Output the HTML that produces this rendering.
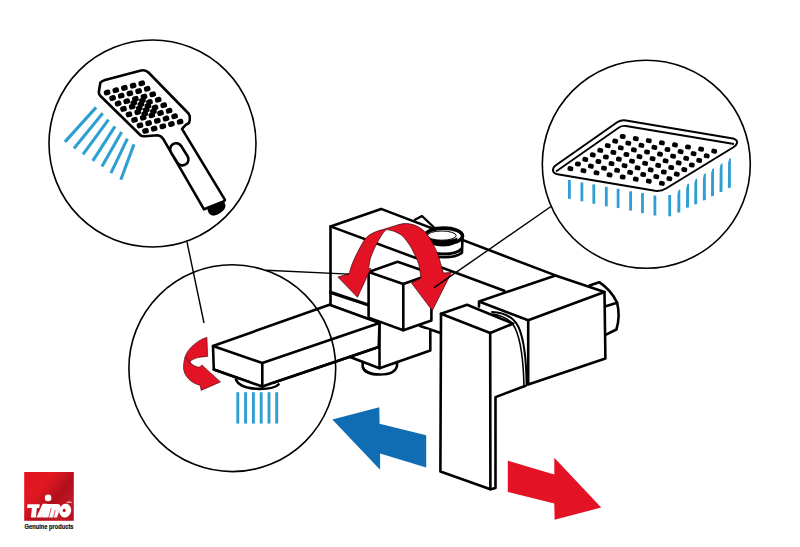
<!DOCTYPE html>
<html><head><meta charset="utf-8"><style>
html,body{margin:0;padding:0;background:#fff;}
body{width:800px;height:547px;overflow:hidden;font-family:"Liberation Sans",sans-serif;}
svg{display:block;}
</style></head><body>
<svg width="800" height="547" viewBox="0 0 800 547">
<g stroke="#2f9fd3" stroke-width="3.1" fill="none">
<line x1="96.1" y1="107.4" x2="64.9" y2="141.9"/>
<line x1="102.7" y1="113.2" x2="73.9" y2="148.5"/>
<line x1="108.5" y1="119.7" x2="83" y2="154.3"/>
<line x1="115" y1="126.3" x2="92.8" y2="160.9"/>
<line x1="121.6" y1="132.1" x2="101.9" y2="166.6"/>
<line x1="127.4" y1="138.7" x2="110.9" y2="173.2"/>
<line x1="134" y1="144.4" x2="120.8" y2="179.8"/>
</g>
<path d="M100.3,82.8 L98.8,92.3 Q98.9,94.3 100.5,96 L140.5,135.3 Q142,136.6 145,136.2 L157.5,135.2 Q161,135.4 163.5,139.3 L204,209.3 L223.5,201.5 Q225.5,200.5 224.7,199.4 L182,128.8 Q184.3,125 189,123 Q191,117 188.5,113.5 L148.5,72.5 Q145.5,69.5 141,70.5 L105,80 Q101.5,81 100.3,82.8 Z" fill="#fff" stroke="#000" stroke-width="2.6" stroke-linejoin="round"/>
<path d="M207.5,209 L223.5,201.5 Q226.8,205 224.5,209 Q221,213.8 214.5,215.6 Q209.5,216 207.8,211 Z" fill="#000"/>
<g transform="translate(179.3,154.3) rotate(-32)"><rect x="-6" y="-12" width="12" height="24" rx="6" fill="#fff" stroke="#000" stroke-width="2.6"/></g>
<g fill="#000">
<rect x="103.8" y="89.8" width="6.6" height="5.4" rx="2.1" transform="rotate(-15 107.1 92.5)"/>
<rect x="109.3" y="95.3" width="6.6" height="5.4" rx="2.1" transform="rotate(-15 112.6 98.0)"/>
<rect x="114.8" y="100.8" width="6.6" height="5.4" rx="2.1" transform="rotate(-15 118.1 103.5)"/>
<rect x="120.2" y="106.2" width="6.6" height="5.4" rx="2.1" transform="rotate(-15 123.5 108.9)"/>
<rect x="125.7" y="111.7" width="6.6" height="5.4" rx="2.1" transform="rotate(-15 129.0 114.4)"/>
<rect x="131.2" y="117.2" width="6.6" height="5.4" rx="2.1" transform="rotate(-15 134.5 119.9)"/>
<rect x="136.7" y="122.7" width="6.6" height="5.4" rx="2.1" transform="rotate(-15 140.0 125.4)"/>
<rect x="142.2" y="128.2" width="6.6" height="5.4" rx="2.1" transform="rotate(-15 145.5 130.9)"/>
<rect x="112.5" y="87.5" width="6.6" height="5.4" rx="2.1" transform="rotate(-15 115.8 90.2)"/>
<rect x="117.9" y="93.0" width="6.6" height="5.4" rx="2.1" transform="rotate(-15 121.2 95.7)"/>
<rect x="123.4" y="98.5" width="6.6" height="5.4" rx="2.1" transform="rotate(-15 126.7 101.2)"/>
<rect x="128.9" y="103.9" width="6.6" height="5.4" rx="2.1" transform="rotate(-15 132.2 106.6)"/>
<rect x="134.4" y="109.4" width="6.6" height="5.4" rx="2.1" transform="rotate(-15 137.7 112.1)"/>
<rect x="139.9" y="114.9" width="6.6" height="5.4" rx="2.1" transform="rotate(-15 143.2 117.6)"/>
<rect x="145.3" y="120.4" width="6.6" height="5.4" rx="2.1" transform="rotate(-15 148.6 123.1)"/>
<rect x="150.8" y="125.9" width="6.6" height="5.4" rx="2.1" transform="rotate(-15 154.1 128.6)"/>
<rect x="121.1" y="85.2" width="6.6" height="5.4" rx="2.1" transform="rotate(-15 124.4 87.9)"/>
<rect x="126.6" y="90.7" width="6.6" height="5.4" rx="2.1" transform="rotate(-15 129.9 93.4)"/>
<rect x="132.1" y="96.2" width="6.6" height="5.4" rx="2.1" transform="rotate(-15 135.4 98.9)"/>
<rect x="137.6" y="101.6" width="6.6" height="5.4" rx="2.1" transform="rotate(-15 140.9 104.3)"/>
<rect x="143.0" y="107.1" width="6.6" height="5.4" rx="2.1" transform="rotate(-15 146.3 109.8)"/>
<rect x="148.5" y="112.6" width="6.6" height="5.4" rx="2.1" transform="rotate(-15 151.8 115.3)"/>
<rect x="154.0" y="118.1" width="6.6" height="5.4" rx="2.1" transform="rotate(-15 157.3 120.8)"/>
<rect x="159.5" y="123.6" width="6.6" height="5.4" rx="2.1" transform="rotate(-15 162.8 126.3)"/>
<rect x="129.8" y="82.9" width="6.6" height="5.4" rx="2.1" transform="rotate(-15 133.1 85.6)"/>
<rect x="135.3" y="88.4" width="6.6" height="5.4" rx="2.1" transform="rotate(-15 138.6 91.1)"/>
<rect x="140.7" y="93.9" width="6.6" height="5.4" rx="2.1" transform="rotate(-15 144.0 96.6)"/>
<rect x="146.2" y="99.3" width="6.6" height="5.4" rx="2.1" transform="rotate(-15 149.5 102.0)"/>
<rect x="151.7" y="104.8" width="6.6" height="5.4" rx="2.1" transform="rotate(-15 155.0 107.5)"/>
<rect x="157.2" y="110.3" width="6.6" height="5.4" rx="2.1" transform="rotate(-15 160.5 113.0)"/>
<rect x="162.7" y="115.8" width="6.6" height="5.4" rx="2.1" transform="rotate(-15 166.0 118.5)"/>
<rect x="168.1" y="121.3" width="6.6" height="5.4" rx="2.1" transform="rotate(-15 171.4 124.0)"/>
<rect x="138.4" y="80.6" width="6.6" height="5.4" rx="2.1" transform="rotate(-15 141.7 83.3)"/>
<rect x="143.9" y="86.1" width="6.6" height="5.4" rx="2.1" transform="rotate(-15 147.2 88.8)"/>
<rect x="149.4" y="91.6" width="6.6" height="5.4" rx="2.1" transform="rotate(-15 152.7 94.3)"/>
<rect x="154.9" y="97.0" width="6.6" height="5.4" rx="2.1" transform="rotate(-15 158.2 99.7)"/>
<rect x="160.4" y="102.5" width="6.6" height="5.4" rx="2.1" transform="rotate(-15 163.7 105.2)"/>
<rect x="165.8" y="108.0" width="6.6" height="5.4" rx="2.1" transform="rotate(-15 169.1 110.7)"/>
<rect x="171.3" y="113.5" width="6.6" height="5.4" rx="2.1" transform="rotate(-15 174.6 116.2)"/>
<rect x="176.8" y="119.0" width="6.6" height="5.4" rx="2.1" transform="rotate(-15 180.1 121.7)"/>
<rect x="130.5" y="100.0" width="6.6" height="5.4" rx="2.1" transform="rotate(-15 133.8 102.8)"/>
<rect x="136.0" y="105.5" width="6.6" height="5.4" rx="2.1" transform="rotate(-15 139.3 108.2)"/>
<rect x="141.4" y="111.0" width="6.6" height="5.4" rx="2.1" transform="rotate(-15 144.8 113.7)"/>
<rect x="139.1" y="97.8" width="6.6" height="5.4" rx="2.1" transform="rotate(-15 142.4 100.5)"/>
<rect x="144.6" y="103.2" width="6.6" height="5.4" rx="2.1" transform="rotate(-15 147.9 105.9)"/>
<rect x="150.1" y="108.7" width="6.6" height="5.4" rx="2.1" transform="rotate(-15 153.4 111.4)"/>
</g>
<path d="M555.5,165.5 L617.5,122 Q621,119.8 626,120.5 L733,138.5 Q738,140 737,143 Q736.5,145.5 733,147.5 L666,188.5 Q661,191.5 655,190.8 L557.5,174.3 Q553.3,173.5 553,170.5 Q552.8,167.5 555.5,165.5 Z" fill="#fff" stroke="#000" stroke-width="2" stroke-linejoin="round"/>
<path d="M556,171.5 L619,127.5 Q622,125.5 626,126 L734,144" fill="none" stroke="#000" stroke-width="1.8"/>
<g fill="#000">
<rect x="567.5" y="166.2" width="5.8" height="4.8" rx="1.8" transform="rotate(10 570.4 168.6)"/>
<rect x="580.6" y="168.3" width="5.8" height="4.8" rx="1.8" transform="rotate(10 583.5 170.7)"/>
<rect x="593.6" y="170.4" width="5.8" height="4.8" rx="1.8" transform="rotate(10 596.5 172.8)"/>
<rect x="606.7" y="172.5" width="5.8" height="4.8" rx="1.8" transform="rotate(10 609.6 174.9)"/>
<rect x="619.8" y="174.6" width="5.8" height="4.8" rx="1.8" transform="rotate(10 622.7 177.0)"/>
<rect x="632.9" y="176.7" width="5.8" height="4.8" rx="1.8" transform="rotate(10 635.8 179.1)"/>
<rect x="645.9" y="178.8" width="5.8" height="4.8" rx="1.8" transform="rotate(10 648.8 181.2)"/>
<rect x="659.0" y="180.9" width="5.8" height="4.8" rx="1.8" transform="rotate(10 661.9 183.3)"/>
<rect x="575.0" y="161.6" width="5.8" height="4.8" rx="1.8" transform="rotate(10 577.9 164.0)"/>
<rect x="588.0" y="163.7" width="5.8" height="4.8" rx="1.8" transform="rotate(10 590.9 166.1)"/>
<rect x="601.1" y="165.8" width="5.8" height="4.8" rx="1.8" transform="rotate(10 604.0 168.2)"/>
<rect x="614.2" y="167.9" width="5.8" height="4.8" rx="1.8" transform="rotate(10 617.1 170.3)"/>
<rect x="627.2" y="170.0" width="5.8" height="4.8" rx="1.8" transform="rotate(10 630.1 172.4)"/>
<rect x="640.3" y="172.1" width="5.8" height="4.8" rx="1.8" transform="rotate(10 643.2 174.5)"/>
<rect x="653.4" y="174.2" width="5.8" height="4.8" rx="1.8" transform="rotate(10 656.3 176.6)"/>
<rect x="666.5" y="176.3" width="5.8" height="4.8" rx="1.8" transform="rotate(10 669.4 178.7)"/>
<rect x="582.4" y="157.0" width="5.8" height="4.8" rx="1.8" transform="rotate(10 585.3 159.4)"/>
<rect x="595.5" y="159.1" width="5.8" height="4.8" rx="1.8" transform="rotate(10 598.4 161.5)"/>
<rect x="608.6" y="161.2" width="5.8" height="4.8" rx="1.8" transform="rotate(10 611.5 163.6)"/>
<rect x="621.7" y="163.3" width="5.8" height="4.8" rx="1.8" transform="rotate(10 624.6 165.7)"/>
<rect x="634.7" y="165.4" width="5.8" height="4.8" rx="1.8" transform="rotate(10 637.6 167.8)"/>
<rect x="647.8" y="167.5" width="5.8" height="4.8" rx="1.8" transform="rotate(10 650.7 169.9)"/>
<rect x="660.9" y="169.6" width="5.8" height="4.8" rx="1.8" transform="rotate(10 663.8 172.0)"/>
<rect x="673.9" y="171.7" width="5.8" height="4.8" rx="1.8" transform="rotate(10 676.8 174.1)"/>
<rect x="589.9" y="152.5" width="5.8" height="4.8" rx="1.8" transform="rotate(10 592.8 154.9)"/>
<rect x="603.0" y="154.6" width="5.8" height="4.8" rx="1.8" transform="rotate(10 605.9 157.0)"/>
<rect x="616.0" y="156.7" width="5.8" height="4.8" rx="1.8" transform="rotate(10 618.9 159.1)"/>
<rect x="629.1" y="158.8" width="5.8" height="4.8" rx="1.8" transform="rotate(10 632.0 161.2)"/>
<rect x="642.2" y="160.9" width="5.8" height="4.8" rx="1.8" transform="rotate(10 645.1 163.3)"/>
<rect x="655.3" y="163.0" width="5.8" height="4.8" rx="1.8" transform="rotate(10 658.2 165.4)"/>
<rect x="668.3" y="165.1" width="5.8" height="4.8" rx="1.8" transform="rotate(10 671.2 167.5)"/>
<rect x="681.4" y="167.2" width="5.8" height="4.8" rx="1.8" transform="rotate(10 684.3 169.6)"/>
<rect x="597.4" y="147.9" width="5.8" height="4.8" rx="1.8" transform="rotate(10 600.3 150.3)"/>
<rect x="610.5" y="150.0" width="5.8" height="4.8" rx="1.8" transform="rotate(10 613.4 152.4)"/>
<rect x="623.5" y="152.1" width="5.8" height="4.8" rx="1.8" transform="rotate(10 626.4 154.5)"/>
<rect x="636.6" y="154.2" width="5.8" height="4.8" rx="1.8" transform="rotate(10 639.5 156.6)"/>
<rect x="649.7" y="156.3" width="5.8" height="4.8" rx="1.8" transform="rotate(10 652.6 158.7)"/>
<rect x="662.7" y="158.4" width="5.8" height="4.8" rx="1.8" transform="rotate(10 665.6 160.8)"/>
<rect x="675.8" y="160.5" width="5.8" height="4.8" rx="1.8" transform="rotate(10 678.7 162.9)"/>
<rect x="688.9" y="162.6" width="5.8" height="4.8" rx="1.8" transform="rotate(10 691.8 165.0)"/>
<rect x="604.9" y="143.3" width="5.8" height="4.8" rx="1.8" transform="rotate(10 607.8 145.7)"/>
<rect x="617.9" y="145.4" width="5.8" height="4.8" rx="1.8" transform="rotate(10 620.8 147.8)"/>
<rect x="631.0" y="147.5" width="5.8" height="4.8" rx="1.8" transform="rotate(10 633.9 149.9)"/>
<rect x="644.1" y="149.6" width="5.8" height="4.8" rx="1.8" transform="rotate(10 647.0 152.0)"/>
<rect x="657.1" y="151.7" width="5.8" height="4.8" rx="1.8" transform="rotate(10 660.0 154.1)"/>
<rect x="670.2" y="153.8" width="5.8" height="4.8" rx="1.8" transform="rotate(10 673.1 156.2)"/>
<rect x="683.3" y="155.9" width="5.8" height="4.8" rx="1.8" transform="rotate(10 686.2 158.3)"/>
<rect x="696.3" y="158.0" width="5.8" height="4.8" rx="1.8" transform="rotate(10 699.2 160.4)"/>
<rect x="612.3" y="138.7" width="5.8" height="4.8" rx="1.8" transform="rotate(10 615.2 141.1)"/>
<rect x="625.4" y="140.8" width="5.8" height="4.8" rx="1.8" transform="rotate(10 628.3 143.2)"/>
<rect x="638.5" y="142.9" width="5.8" height="4.8" rx="1.8" transform="rotate(10 641.4 145.3)"/>
<rect x="651.5" y="145.0" width="5.8" height="4.8" rx="1.8" transform="rotate(10 654.4 147.4)"/>
<rect x="664.6" y="147.1" width="5.8" height="4.8" rx="1.8" transform="rotate(10 667.5 149.5)"/>
<rect x="677.7" y="149.2" width="5.8" height="4.8" rx="1.8" transform="rotate(10 680.6 151.6)"/>
<rect x="690.7" y="151.3" width="5.8" height="4.8" rx="1.8" transform="rotate(10 693.6 153.7)"/>
<rect x="703.8" y="153.4" width="5.8" height="4.8" rx="1.8" transform="rotate(10 706.7 155.8)"/>
<rect x="619.8" y="134.1" width="5.8" height="4.8" rx="1.8" transform="rotate(10 622.7 136.5)"/>
<rect x="632.9" y="136.2" width="5.8" height="4.8" rx="1.8" transform="rotate(10 635.8 138.6)"/>
<rect x="645.9" y="138.3" width="5.8" height="4.8" rx="1.8" transform="rotate(10 648.8 140.7)"/>
<rect x="659.0" y="140.4" width="5.8" height="4.8" rx="1.8" transform="rotate(10 661.9 142.8)"/>
<rect x="672.1" y="142.5" width="5.8" height="4.8" rx="1.8" transform="rotate(10 675.0 144.9)"/>
<rect x="685.1" y="144.6" width="5.8" height="4.8" rx="1.8" transform="rotate(10 688.0 147.0)"/>
<rect x="698.2" y="146.7" width="5.8" height="4.8" rx="1.8" transform="rotate(10 701.1 149.1)"/>
<rect x="711.3" y="148.8" width="5.8" height="4.8" rx="1.8" transform="rotate(10 714.2 151.2)"/>
</g>
<g stroke="#2f9fd3" stroke-width="2.8" fill="none">
<line x1="569.4" y1="180" x2="569.4" y2="198.8"/>
<line x1="581.9" y1="182.5" x2="581.9" y2="201.3"/>
<line x1="593.8" y1="184.4" x2="593.8" y2="203.8"/>
<line x1="606.3" y1="186.9" x2="606.3" y2="206.3"/>
<line x1="618.1" y1="188.8" x2="618.1" y2="208.1"/>
<line x1="630.6" y1="191.3" x2="630.6" y2="210.6"/>
<line x1="642.5" y1="193.1" x2="642.5" y2="213.1"/>
<line x1="654.9" y1="195.5" x2="654.9" y2="215.5"/>
<line x1="669.7" y1="195" x2="669.7" y2="216.3"/>
</g>
<g fill="#2f9fd3">
<polygon points="678.6,190.0 680.3,189.2 680.3,212.2 677.3,212.8 677.5,194.0"/>
<polygon points="687.3,184.3 689.0,183.5 689.0,207.3 686.0,207.9 686.2,188.3"/>
<polygon points="695.5,179.3 697.2,178.5 697.2,204.0 694.2,204.6 694.4,183.3"/>
<polygon points="704.1,174.0 705.8,173.2 705.8,199.9 702.8,200.5 703.0,178.0"/>
<polygon points="712.3,169.0 714.0,168.2 714.0,195.8 711.0,196.4 711.2,173.0"/>
<polygon points="720.8,164.0 722.5,163.2 722.5,191.7 719.5,192.3 719.7,168.0"/>
<polygon points="729.2,158.8 730.9,158.0 730.9,187.6 727.9,188.2 728.1,162.8"/>
</g>
<g fill="none" stroke="#000" stroke-width="2.6" stroke-linejoin="round" stroke-linecap="round">
<path d="M589.6,285.4 L599.2,282.2 Q611,290 617.1,302.7 Q620.5,316 616.4,329.5 L605.5,334.9 L600,320 Z" fill="#fff"/>
<polyline points="604.0,306.8 617.1,302.7"/>
</g>
<g fill="none" stroke="#000" stroke-width="2.6" stroke-linejoin="round" stroke-linecap="round">
<polygon fill="#fff" points="330.5,226.4 381.1,208.9 555.5,275.4 504.3,290.7 440.0,333.0 330.5,305.6" stroke="none"/>
<polyline points="330.5,305.6 330.5,226.4 381.1,208.9 555.5,275.4"/>
<polyline points="330.5,226.4 504.3,290.7"/>
<polyline points="330.5,292.4 370.0,305.5" stroke-width="3.3"/>
<polyline points="330.5,305.6 379.5,323.0"/>
<polyline points="420.1,326.1 440.6,333.1"/>
<polyline points="414.9,219.8 422.0,216.0 434.1,227.5" stroke-width="2.4"/>
</g>
<g stroke="#000" fill="#fff">
<path d="M425,237 L425.5,252.5 Q431,257.3 444,257.3 Q457,257.3 462,252.5 L462.5,237 Z" stroke-width="2.6"/>
<path d="M425.5,248.5 Q431,254 444,254 Q457,254 462,248.5" fill="none" stroke-width="3"/>
<ellipse cx="443.8" cy="236" rx="18.7" ry="7.9" stroke-width="3.6"/>
<ellipse cx="441.8" cy="235.6" rx="14.4" ry="4.6" stroke-width="1"/>
<path d="M427.5,237 Q429,246.5 443,246.5 Q457,246.5 457.5,237.5 Q452,240.3 442,240.3 Q432,240.3 427.5,237 Z" fill="#000" stroke="none"/>
</g>
<g fill="none" stroke="#000" stroke-width="2.6" stroke-linejoin="round" stroke-linecap="round">
<polygon fill="#fff" points="351.0,357.3 379.5,323.0 430.3,330.0 430.3,350.4 379.5,368.2" stroke="none"/>
<path d="M362.7,362 L362.7,367 Q365,374.5 380,374.5 Q395,374.5 397,366 L397,362" fill="#fff"/>
<polyline points="350.0,357.0 379.5,368.2 430.3,350.4 430.3,330.0"/>
<polyline points="379.5,323.0 379.5,368.2"/>
</g>
<g fill="none" stroke="#000" stroke-width="2.6" stroke-linejoin="round" stroke-linecap="round">
<polygon fill="#fff" points="213.0,346.0 329.5,304.7 379.5,323.0 378.7,347.0 262.3,386.5 213.8,369.5"/>
<polyline points="213.0,346.0 262.3,363.1 379.5,323.0"/>
<path d="M236,379.5 Q239,387.5 256,388.8 Q274,389.5 278.5,384.5" fill="#fff"/>
<polyline points="262.3,363.1 262.3,386.5"/>
<polyline points="213.8,369.5 262.3,386.5 378.7,347.0"/>
</g>
<g stroke="#2f9fd3" stroke-width="2.9">
<line x1="237.8" y1="392.2" x2="237.8" y2="423.6"/>
<line x1="245.6" y1="392.2" x2="245.6" y2="423.6"/>
<line x1="253.4" y1="392.2" x2="253.4" y2="423.6"/>
<line x1="261.2" y1="392.2" x2="261.2" y2="423.6"/>
<line x1="269" y1="392.2" x2="269" y2="423.6"/>
<line x1="276.7" y1="392.2" x2="276.7" y2="423.6"/>
</g>
<g fill="none" stroke="#000" stroke-width="2.6" stroke-linejoin="round" stroke-linecap="round">
<polygon fill="#fff" points="368.6,271.9 397.6,261.8 431.4,273.5 431.4,320.6 403.3,330.2 368.6,317.6"/>
<polyline points="368.6,271.9 403.3,284.0 431.4,274.0"/>
<polyline points="403.3,284.0 403.3,330.2"/>
</g>
<g fill="none" stroke="#000" stroke-width="2.6" stroke-linejoin="round" stroke-linecap="round">
<polygon fill="#fff" points="479.0,301.5 555.5,275.4 604.5,292.0 605.4,358.6 528.2,384.5 479.0,330.0" stroke="none"/>
<polyline points="479.0,306.5 479.0,301.5 555.5,275.4 604.5,292.0 528.2,320.2 479.0,301.5"/>
<polyline points="604.5,292.0 605.4,358.6 528.2,384.5 528.2,320.2"/>
</g>
<g fill="none" stroke="#000" stroke-width="2.6" stroke-linejoin="round" stroke-linecap="round">
<polygon fill="#fff" points="441.0,313.8 467.1,304.8 513.2,324.0 526.0,384.0 495.5,397.1 495.5,488.0 490.4,489.2 440.4,471.5" stroke="none"/>
<polygon points="490.2,333.0 441.0,313.8 467.1,304.8 513.2,323.6"/>
<polyline points="441.0,313.8 440.4,471.5 490.4,489.2 490.2,333.0"/>
<polyline points="490.4,489.2 495.5,488.0 495.5,397.1 525.0,386.0"/>
<path d="M492,312 C505,312.5 514,318 518.5,327 C523.5,338 526.3,355 526.6,385.5" stroke-width="2"/>
<path d="M492.5,314 C505,316 512,321 515.5,329 C520,339 523.3,355 524,386.5" stroke-width="1.6"/>
</g>
<path d="M368.6,269.0 C368.7,268.3 368.8,266.8 369.1,265.0 C369.4,263.2 369.6,260.9 370.4,258.3 C371.2,255.7 372.6,252.4 373.9,249.5 C375.2,246.6 376.7,243.7 378.3,240.8 C379.9,237.9 382.2,234.2 383.6,232.3 C385.1,230.4 386.4,230.1 387.0,229.6 L387.0,229.6 C388.2,229.9 392.3,230.6 394.5,231.4 C396.7,232.2 398.7,233.4 400.2,234.3 C401.7,235.2 402.5,236.1 403.5,237.1 C404.5,238.1 405.2,239.0 406.4,240.6 C407.6,242.2 409.6,244.9 410.8,246.9 C412.0,248.9 412.7,250.6 413.6,252.4 C414.5,254.2 415.5,256.1 416.3,257.9 C417.1,259.7 417.9,261.6 418.5,263.4 C419.1,265.2 419.2,266.4 419.6,268.8 C420.0,271.2 420.8,276.6 421.0,278.1 L411.5,283 L432.3,310.6 L451.5,272.4 L443.5,273.0 C443.1,271.8 442.2,268.8 441.3,265.8 C440.4,262.8 439.4,258.6 438.0,254.9 C436.6,251.2 435.0,247.6 433.0,243.9 C431.0,240.2 428.3,235.7 426.0,233.0 C423.7,230.3 421.7,228.9 419.4,227.5 C417.1,226.1 414.6,225.0 412.0,224.3 C409.4,223.7 406.5,223.4 404.0,223.6 C401.5,223.8 399.9,224.4 396.9,225.2 C393.9,226.0 389.8,227.4 386.0,228.6 C382.2,229.8 377.3,230.9 374.0,232.5 C370.7,234.1 368.4,235.4 366.0,238.0 C363.6,240.6 361.8,244.4 359.9,247.8 C358.0,251.2 356.1,255.1 354.6,258.3 C353.1,261.5 352.0,264.6 351.1,267.1 C350.2,269.6 349.7,272.4 349.4,273.5 L337.9,277.1 L357.5,297.3 L370.9,268.3 Z" fill="#e31225" stroke="#3a0508" stroke-width="0.7" stroke-linejoin="round"/>
<path d="M206.9,337.4 C205.9,337.8 203.2,338.3 200.7,339.9 C198.1,341.4 194.1,344.2 191.6,346.7 C189.1,349.2 187.2,351.9 185.9,354.7 C184.6,357.5 184.0,360.9 183.7,363.7 C183.4,366.5 183.4,369.2 184.2,371.7 C184.9,374.2 186.6,376.6 188.2,378.5 C189.8,380.4 191.9,381.9 193.9,383.0 C195.9,384.1 199.1,384.9 200.1,385.3 L201.2,390.4 L220.5,381.9 L201.8,364.9 C201.3,365.3 200.5,367.1 199.0,367.1 C197.5,367.1 194.1,365.6 192.7,364.9 C191.3,364.1 190.7,363.4 190.5,362.6 C190.3,361.8 190.3,361.2 191.6,360.3 C192.9,359.4 195.7,358.1 198.4,357.5 C201.1,356.9 206.1,356.6 207.7,356.4 Z" fill="#e31225" stroke="#3a0508" stroke-width="0.6" stroke-linejoin="round"/>
<path d="M185.5,357 Q189,364 194,366" fill="none" stroke="#5a0a10" stroke-width="0.7"/>
<polygon fill="#116db3" points="332.3,419.6 379.3,407.3 379.6,423.7 426.2,435.3 426.2,467.4 380.1,453.4 380.1,469.8"/>
<polygon fill="#e31225" points="507.8,460.6 554.3,474.6 554.3,457.8 601.2,507.5 554.6,519.8 554.3,503.4 507.8,491.9"/>
<g fill="none" stroke="#000" stroke-width="1.6">
<circle cx="152.5" cy="143.5" r="103.5"/>
<circle cx="232.3" cy="368.2" r="103.4"/>
<circle cx="646.3" cy="164.2" r="104"/>
</g>
<g fill="none" stroke="#000" stroke-width="1.4">
<line x1="187" y1="242" x2="204" y2="323"/>
<line x1="266" y1="270.2" x2="349" y2="274.1"/>
<line x1="551" y1="206.5" x2="434" y2="287.7"/>
</g>
<defs><linearGradient id="lg" x1="0" y1="0" x2="1" y2="0.9">
<stop offset="0" stop-color="#e5141f"/><stop offset="0.35" stop-color="#e01822"/><stop offset="0.62" stop-color="#b10f1c"/><stop offset="0.85" stop-color="#c41a27"/><stop offset="1" stop-color="#b8121e"/></linearGradient></defs>
<rect x="24.2" y="472" width="49.6" height="48.8" fill="url(#lg)"/>
<g fill="#fff">
<polygon points="27.4,504.2 39.8,504.2 39.2,508 36.9,508 35.9,517.6 30.9,517.6 31.9,508 27,508"/>
<polygon points="42.6,503.8 47.2,503.8 41,517.6 36.4,517.6"/>
<circle cx="48.1" cy="497.9" r="3.3"/>
<path d="M45.5,504 L57.5,504 Q61.3,504.3 60.2,508.5 L57,517.6 L41.3,517.6 Z"/>
<ellipse cx="65.2" cy="510.6" rx="5.9" ry="7" transform="rotate(12 65.2 510.6)"/>
</g>
<circle cx="64.2" cy="510.4" r="1.6" fill="#c8141f"/>
<path d="M51.3,507.8 L48.6,517.8 M55.2,510 L53.4,517.8" stroke="#c01420" stroke-width="0.7" fill="none"/>
<path d="M67,502.4 Q69.5,501.3 71.5,502.5" stroke="#fff" stroke-width="1" fill="none"/>
<text x="49" y="528.7" text-anchor="middle" font-family="Liberation Sans, sans-serif" font-weight="bold" font-size="6.6" fill="#111" stroke="#111" stroke-width="0.2" textLength="49" lengthAdjust="spacingAndGlyphs">Genuine products</text>
</svg>
</body></html>
